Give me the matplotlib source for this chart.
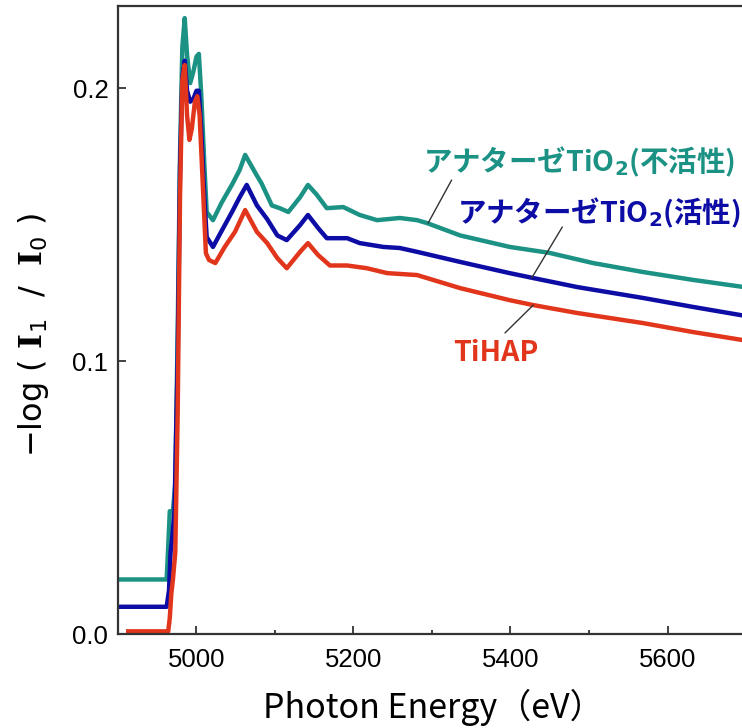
import matplotlib
matplotlib.use("Agg")
import matplotlib.pyplot as plt
from matplotlib.ticker import MultipleLocator

# Ti K-edge XANES spectra
energy_inactive = [4900, 4930, 4962, 4964, 4966, 4970, 4973, 4976, 4979, 4982,
                   4985, 4988, 4992, 4996, 5000, 5003, 5006, 5010, 5013, 5021,
                   5032, 5046, 5055, 5062, 5075, 5083, 5096, 5106, 5117, 5132,
                   5142, 5153, 5166, 5187, 5208, 5230, 5259, 5281, 5294, 5336,
                   5399, 5450, 5505, 5569, 5633, 5700]
absorb_inactive = [0.020, 0.020, 0.020, 0.032, 0.045, 0.045, 0.055, 0.110, 0.175, 0.215,
                   0.2256, 0.212, 0.2018, 0.206, 0.2115, 0.2125, 0.198, 0.172, 0.1546, 0.1516,
                   0.158, 0.165, 0.170, 0.1755, 0.1689, 0.165, 0.157, 0.156, 0.1546, 0.160,
                   0.1645, 0.161, 0.156, 0.1564, 0.1535, 0.1516, 0.1524, 0.1516, 0.1505, 0.146,
                   0.1418, 0.1396, 0.1359, 0.1326, 0.1297, 0.1270]

energy_active = [4900, 4930, 4962, 4965, 4967, 4969, 4972, 4976, 4979, 4982,
                 4985, 4988, 4992, 4996, 5000, 5003, 5006, 5010, 5013, 5021,
                 5034, 5046, 5055, 5064, 5077, 5090, 5103, 5115, 5132, 5142,
                 5155, 5166, 5192, 5208, 5238, 5259, 5281, 5336, 5399, 5429,
                 5485, 5569, 5633, 5700]
absorb_active = [0.010, 0.010, 0.010, 0.016, 0.030, 0.035, 0.045, 0.100, 0.170, 0.204,
                 0.210, 0.199, 0.195, 0.196, 0.199, 0.199, 0.185, 0.160, 0.1454, 0.1418,
                 0.1487, 0.155, 0.160, 0.1645, 0.157, 0.152, 0.146, 0.1443, 0.1498, 0.1535,
                 0.1487, 0.145, 0.145, 0.1432, 0.1418, 0.1414, 0.140, 0.1363, 0.1322, 0.1304,
                 0.1271, 0.1231, 0.1198, 0.1165]

energy_tihap = [4913, 4940, 4964, 4966, 4968, 4970, 4973, 4976, 4979, 4982,
                4985, 4988, 4991, 4994, 4998, 5001, 5004, 5008, 5012, 5016,
                5024, 5036, 5049, 5062, 5077, 5090, 5103, 5115, 5132, 5142,
                5155, 5170, 5192, 5217, 5243, 5281, 5336, 5399, 5429, 5485,
                5569, 5633, 5700]
absorb_tihap = [0.001, 0.001, 0.001, 0.006, 0.015, 0.020, 0.030, 0.080, 0.160, 0.203,
                0.2084, 0.190, 0.181, 0.185, 0.195, 0.197, 0.190, 0.165, 0.1395, 0.137,
                0.1359, 0.1418, 0.1473, 0.1553, 0.1473, 0.1432, 0.1377, 0.134, 0.140, 0.1432,
                0.1388, 0.135, 0.135, 0.134, 0.1322, 0.1315, 0.1267, 0.1223, 0.1205, 0.1176,
                0.1139, 0.1106, 0.1075]

x_ticks = [5000, 5200, 5400, 5600]
y_ticks = [0.0, 0.1, 0.2]
y_tick_labels = ["0.0", "0.1", "0.2"]

TEAL = "#1b9284"
BLUE = "#0d0da6"
RED = "#e2361c"


def main():
    plt.rcParams["mathtext.fontset"] = "custom"
    plt.rcParams["mathtext.rm"] = "DejaVu Sans"
    plt.rcParams["mathtext.sf"] = "DejaVu Sans:bold"
    plt.rcParams["mathtext.bf"] = "DejaVu Serif:bold"

    fig = plt.figure(figsize=(7.42, 7.28), dpi=100)
    # right spine sits just outside the picture, like the original crop
    ax = fig.add_axes([0.159, 0.129, 0.8464, 0.8626])

    ax.plot(energy_inactive, absorb_inactive, color=TEAL, lw=3.2, solid_joinstyle="round")
    ax.plot(energy_active, absorb_active, color=BLUE, lw=3.2, solid_joinstyle="round")
    ax.plot(energy_tihap, absorb_tihap, color=RED, lw=3.2, solid_joinstyle="round")

    ax.set_xlim(4900, 5700)
    ax.set_ylim(0, 0.23)

    ax.set_xticks(x_ticks)
    ax.xaxis.set_minor_locator(MultipleLocator(100))
    ax.set_yticks(y_ticks)
    ax.set_yticklabels(y_tick_labels)
    ax.tick_params(which="both", direction="in", top=False, right=False,
                   width=1.3, color="#333333")
    ax.tick_params(which="major", length=6)
    ax.tick_params(which="minor", length=3)
    ax.tick_params(axis="x", pad=10)
    ax.tick_params(axis="y", pad=7)
    for lab in ax.get_xticklabels() + ax.get_yticklabels():
        lab.set_fontfamily("Liberation Sans")
        lab.set_fontsize(18.5)
    for sp in ax.spines.values():
        sp.set_linewidth(1.6)
        sp.set_color("#333333")

    # axis titles
    fig.text(0.584, 0.028, "Photon Energy（eV）", ha="center", va="center",
             fontsize=24.5, family=["Noto Sans CJK JP", "DejaVu Sans"])
    fig.text(0.045, 0.54,
             r"$\mathrm{-log\ (\ }\mathbf{I}_{1}\mathrm{\ \ /\ \ }\mathbf{I}_{0}\mathrm{\ )}$",
             rotation=90, ha="center", va="center", fontsize=23)

    # curve labels with leader lines
    jp = ["Noto Sans CJK JP", "DejaVu Sans"]
    ax.text(5487, 0.1729, r"アナターゼTiO$_{\mathsf{2}}$(不活性)", color=TEAL,
            fontsize=20.5, fontweight="bold", family=jp, ha="center", va="center")
    ax.text(5513, 0.1542, r"アナターゼTiO$_{\mathsf{2}}$(活性)", color=BLUE,
            fontsize=20.5, fontweight="bold", family=jp, ha="center", va="center")
    ax.text(5381, 0.1029, "TiHAP", color=RED,
            fontsize=20.5, fontweight="bold", family=jp, ha="center", va="center")

    line_kw = dict(arrowstyle="-", color="#333333", lw=1.0, shrinkA=0, shrinkB=0)
    ax.annotate("", xy=(5295, 0.1505), xytext=(5325, 0.1663), arrowprops=line_kw)
    ax.annotate("", xy=(5427, 0.1304), xytext=(5466, 0.1491), arrowprops=line_kw)
    ax.annotate("", xy=(5429, 0.1205), xytext=(5393, 0.1103), arrowprops=line_kw)

    fig.savefig("out.png", dpi=100)


if '__main__' == __name__:
    main()
